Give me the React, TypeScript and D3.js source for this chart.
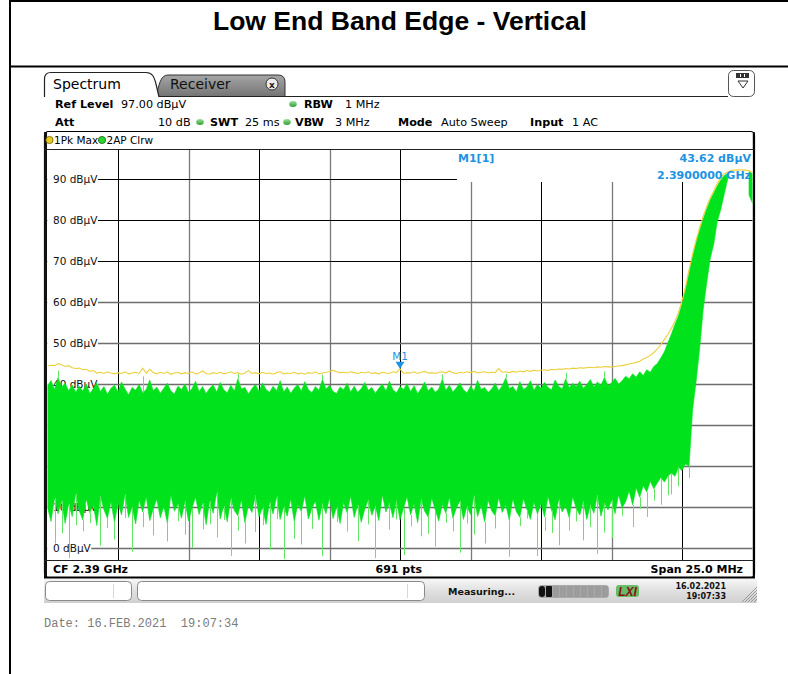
import * as d3 from 'd3';

const W = 788;
const H = 674;

// sweep settings: CF 2.39 GHz, span 25 MHz, one reading every 0.125 MHz
const startMHz = 2377.5;
const stopMHz = 2402.5;
const stepMHz = 0.125;
const refLevel = 97;
const bottomLevel = -3;

const levelTicks = [90, 80, 70, 60, 50, 40, 30, 20, 10, 0];
const darkLevels = [90, 80, 70];
const freqDivisions = [1, 2, 3, 4, 5, 6, 7, 8, 9];

// trace 1: Pk Max (yellow), dBµV
const pkMax = [
  44.3, 44.5, 44.4, 44.9, 44.6, 44.2, 44.4, 43.9, 43.7, 43.8,
  43.4, 43.5, 43.0, 43.2, 42.6, 42.8, 42.5, 42.9, 42.6, 42.4,
  42.7, 42.5, 42.9, 42.4, 42.6, 42.8, 42.5, 43.8, 42.6, 43.5,
  42.7, 42.4, 42.8, 42.5, 42.9, 42.3, 42.6, 42.8, 42.4, 42.7,
  42.5, 42.9, 42.4, 42.6, 43.1, 42.5, 42.3, 42.7, 42.5, 42.8,
  42.4, 42.6, 42.9, 42.5, 42.7, 42.3, 42.6, 43.2, 42.5, 42.7,
  42.4, 42.8, 42.5, 42.6, 42.3, 42.7, 42.9, 42.4, 42.6, 42.5,
  42.8, 42.4, 42.6, 42.3, 42.7, 42.5, 42.9, 42.4, 42.6, 42.8,
  42.9, 43.3, 42.9, 42.7, 42.8, 42.6, 42.9, 42.7, 42.5, 42.8,
  42.6, 42.9, 42.5, 42.7, 42.4, 42.8, 42.6, 42.5, 42.9, 42.7,
  43.6, 42.5, 42.7, 42.6, 42.9, 42.5, 42.8, 43.0, 42.6, 42.7,
  42.5, 42.8, 42.9, 42.6, 43.1, 42.7, 42.5, 42.8, 42.6, 42.9,
  42.7, 43.0, 42.6, 42.8, 42.9, 42.6, 42.8, 42.7, 43.7, 42.8,
  42.9, 42.7, 43.0, 42.8, 43.1, 42.9, 43.2, 43.0, 43.3, 43.1,
  43.3, 43.4, 43.2, 43.5, 43.4, 43.6, 43.5, 43.7, 43.6, 43.8,
  43.7, 43.9, 43.8, 43.9, 44.0, 43.9, 44.1, 44.0, 44.2, 44.1,
  44.1, 44.2, 44.3, 44.4, 44.6, 44.8, 45.0, 45.2, 45.5, 46.0,
  46.4, 46.9, 47.6, 48.5, 49.5, 50.8, 52.0, 53.5, 55.2, 57.4,
  60.2, 63.6, 67.8, 71.6, 75.0, 78.0, 80.8, 83.2, 85.3, 87.0,
  88.8, 90.3, 91.2, 91.7, 92.0, 92.1, 92.2, 92.1, 92.1, 92.0,
  91.4,
];

// trace 2: AP Clrw (green), upper and lower envelope, dBµV
const apHigh = [
  39.5, 40.8, 38.6, 41.5, 39.2, 40.1, 38.3, 39.7, 37.9, 39.4,
  38.2, 39.9, 37.6, 38.8, 40.2, 38.1, 39.3, 37.4, 38.9, 39.6,
  38.0, 40.4, 38.7, 37.3, 39.1, 38.4, 39.8, 37.8, 38.6, 40.9,
  38.3, 39.2, 37.7, 38.9, 40.1, 38.2, 37.5, 39.4, 38.6, 39.9,
  37.9, 38.8, 40.6, 38.1, 39.3, 37.6, 38.9, 39.7, 38.0, 40.3,
  38.5, 37.8, 39.6, 38.2, 41.2, 38.7, 39.1, 37.5, 38.8, 39.8,
  38.1, 40.2, 38.6, 37.9, 39.4, 38.3, 40.7, 38.0, 39.2, 37.7,
  38.9, 39.8, 38.2, 40.5, 38.6, 37.8, 39.3, 38.4, 41.0, 38.7,
  39.6, 38.1, 37.6, 39.2, 38.5, 40.1, 38.0, 39.4, 37.9, 38.8,
  40.3, 38.4, 39.1, 37.7, 38.9, 39.9, 38.2, 40.6, 38.5, 37.8,
  39.3, 38.6, 40.0, 38.1, 39.5, 37.6, 38.8, 40.4, 38.3, 39.2,
  37.9, 38.7, 41.1, 38.4, 39.6, 38.0, 39.0, 40.2, 38.5, 37.8,
  39.4, 38.2, 40.8, 38.6, 39.1, 37.9, 38.7, 40.1, 38.3, 39.5,
  41.4, 38.8, 39.3, 38.0, 40.5, 38.6, 39.2, 40.7, 38.4, 39.8,
  38.9, 40.3, 39.1, 38.5, 40.9, 39.4, 38.7, 41.2, 39.0, 40.1,
  39.3, 40.6, 38.9, 39.8, 41.0, 39.2, 40.4, 39.6, 41.5, 39.5,
  40.2, 41.3, 39.9, 40.7, 41.8, 41.2, 42.4, 41.6, 42.9, 42.0,
  43.4, 42.8, 44.2, 44.9, 46.3, 47.8, 50.0, 52.1, 54.5, 56.6,
  59.5, 63.0, 67.0, 71.0, 74.5, 77.5, 80.2, 82.6, 84.8, 86.5,
  88.2, 89.7, 90.8, 91.3, null, null, null, null, null, 91.8,
  91.2,
];

const apLow = [
  9.8, 6.4, 12.1, 8.3, 11.5, 5.9, 10.7, 7.6, 13.2, 9.0,
  6.8, 11.9, 8.5, 10.4, 5.4, 12.6, 9.3, 7.1, 11.2, 6.2,
  10.8, 8.0, 13.0, 7.4, 9.9, 5.8, 11.6, 8.7, 12.4, 6.6,
  9.5, 11.8, 7.3, 10.1, 6.0, 12.9, 8.9, 10.6, 7.2, 11.3,
  6.5, 9.7, 12.3, 8.1, 10.9, 5.6, 11.4, 8.4, 13.5, 7.0,
  10.2, 6.3, 12.0, 9.1, 7.8, 11.7, 6.1, 10.3, 8.6, 12.8,
  7.5, 9.8, 5.7, 11.1, 8.2, 12.5, 6.9, 10.0, 7.7, 11.9,
  6.4, 10.5, 8.8, 12.7, 7.0, 9.6, 11.3, 6.7, 10.8, 8.3,
  12.2, 7.1, 9.9, 5.9, 11.0, 8.5, 12.6, 7.4, 10.4, 6.2,
  9.4, 11.7, 7.9, 10.2, 6.6, 12.9, 8.7, 10.9, 7.3, 11.5,
  6.8, 9.6, 12.4, 8.0, 10.7, 6.1, 11.8, 8.9, 7.5, 12.1,
  9.2, 6.5, 10.6, 8.4, 12.3, 7.2, 9.7, 11.4, 6.9, 10.1,
  8.1, 12.7, 7.6, 10.3, 6.3, 11.6, 9.0, 7.8, 12.2, 8.6,
  10.5, 6.7, 11.9, 8.8, 7.4, 12.0, 9.3, 6.9, 11.1, 8.2,
  10.8, 7.5, 12.5, 9.1, 6.8, 11.7, 8.7, 10.2, 7.3, 12.4,
  9.6, 8.0, 11.3, 6.9, 10.5, 8.4, 12.8, 7.7, 10.9, 9.2,
  11.6, 8.3, 12.9, 9.7, 11.2, 13.8, 10.4, 14.6, 12.3, 15.1,
  13.6, 16.2, 14.4, 15.8, 17.1, 16.0, 17.5, 18.2, 17.4, 19.6,
  18.8, 20.4, 19.9, 33.5, 40.5, 48.5, 58.0, 64.5, 70.5, 74.0,
  79.5, 82.5, 86.3, 90.0, null, null, null, null, null, 86.0,
  84.0,
];

// single-sample excursions of the green trace: [sample index, dBµV]
const apDips = [
  [2, 1.0], [4, 3.5], [6, -2.5], [8, 5.5], [10, 4.0], [12, 6.0], [15, 0.5],
  [17, 4.8], [19, 2.0], [22, 7.2], [24, -1.0], [27, 5.0], [30, 3.0], [34, 1.5],
  [37, 6.5], [39, 3.2], [41, 0.0], [44, 4.5], [46, 5.8], [48, 2.5], [50, 6.8],
  [52, -2.0], [54, 4.2], [56, 1.0], [59, 3.8], [61, 5.5], [63, -0.5], [65, 7.0],
  [67, -2.8], [70, 2.2], [72, 0.8], [75, 4.6], [78, -2.0], [82, 6.3], [85, 3.9],
  [88, 1.6], [91, 5.7], [93, -2.5], [97, 4.4], [99, 6.9], [101, -1.8], [103, 5.2],
  [106, 2.8], [108, 3.4], [110, 0.3], [113, 6.1], [115, 4.0], [117, -1.2],
  [119, 5.9], [121, 3.2], [124, 1.0], [127, 4.7], [131, -2.2], [134, 5.3],
  [136, 7.1], [139, -2.0], [141, 4.1], [143, 3.6], [145, 0.6], [148, 4.2],
  [150, 6.4], [152, 1.8], [154, 5.0], [156, -1.5], [158, 3.7], [160, 2.4],
  [163, 7.8], [166, 5.0], [168, 9.5], [170, 7.5], [172, 11.5], [174, 10.5],
  [176, 12.8], [177, 13.0], [179, 15.0], [182, 17.0],
];
const apPeaks = [
  [3, 43.2], [27, 41.8], [54, 42.4], [78, 42.2], [112, 42.3], [130, 42.4],
  [147, 42.6], [158, 43.0],
];

const marker = {
  name: 'M1',
  tag: 'M1[1]',
  freqMHz: 2390,
  level: 43.62,
  levelText: '43.62 dBµV',
  freqText: '2.3900000 GHz',
};

const UI = '"DejaVu Sans", Verdana, sans-serif';
const BLUE = '#1c93e3';
const GREEN = '#00e31c';
const YELLOW = '#ecd03a';

// plot area
const GX0 = 47.5, GX1 = 752.5, GY0 = 150, GY1 = 560;

const headerRow1 = [
  { t: 'Ref Level', x: 55, b: true },
  { t: '97.00 dBµV', x: 121 },
  { t: 'RBW', x: 304, b: true },
  { t: '1 MHz', x: 345 },
];
const headerRow2 = [
  { t: 'Att', x: 55, b: true },
  { t: '10 dB', x: 158 },
  { t: 'SWT', x: 210, b: true },
  { t: '25 ms', x: 245 },
  { t: 'VBW', x: 295, b: true },
  { t: '3 MHz', x: 335 },
  { t: 'Mode', x: 398, b: true },
  { t: 'Auto Sweep', x: 441 },
  { t: 'Input', x: 530, b: true },
  { t: '1 AC', x: 572 },
];
const headerDots = [[293, 104], [200, 122], [287, 122]];

// approximate advance widths (em) for the axis label font
const labelWidth = (s: string) =>
  s.split('').reduce((w, c) => w + (c === ' ' ? 0.318 : /[0-9]/.test(c) ? 0.636 : c === 'B' ? 0.686 : c === 'V' ? 0.684 : 0.636), 0);

export default function App() {
  const x = d3.scaleLinear().domain([startMHz, stopMHz]).range([GX0, GX1]);
  const y = d3.scaleLinear().domain([bottomLevel, refLevel]).range([GY1, GY0]);
  const idx = d3.range(pkMax.length);
  const xi = (i: number) => x(startMHz + i * stepMHz);
  const px = (v: number) => Math.round(v) + 0.5;

  const yellowPath = d3.line<number>().x(xi).y((i) => y(pkMax[i]))(idx) || '';
  const greenPath =
    d3
      .area<number>()
      .defined((i) => apHigh[i] != null && apLow[i] != null)
      .x(xi)
      .y0((i) => y(apLow[i] as number))
      .y1((i) => y(apHigh[i] as number))(idx) || '';

  const divStep = (stopMHz - startMHz) / 10;
  const mx = x(marker.freqMHz);
  const my = y(marker.level);
  const LFS = 10.5;

  return (
    <svg
      width={W}
      height={H}
      viewBox={`0 0 ${W} ${H}`}
      style={{ position: 'absolute', left: 0, top: 0, background: '#fff' }}
    >
      <defs>
        <linearGradient id="tabGray" x1="0" y1="0" x2="0" y2="1">
          <stop offset="0" stopColor="#a6a6a6" />
          <stop offset="1" stopColor="#747474" />
        </linearGradient>
        <linearGradient id="statusBg" x1="0" y1="0" x2="0" y2="1">
          <stop offset="0" stopColor="#f6f6f6" />
          <stop offset="0.5" stopColor="#e0e0e0" />
          <stop offset="1" stopColor="#d0d0d0" />
        </linearGradient>
        <linearGradient id="dotG" x1="0" y1="0" x2="0" y2="1">
          <stop offset="0" stopColor="#9be09b" />
          <stop offset="1" stopColor="#2f9f2f" />
        </linearGradient>
        <clipPath id="plotClip">
          <rect x={GX0} y={GY0} width={GX1 - GX0} height={GY1 - GY0} />
        </clipPath>
      </defs>

      {/* page table lines + title */}
      <line x1={9} x2={W} y1={1} y2={1} stroke="#000" strokeWidth={2} />
      <line x1={10} x2={10} y1={0} y2={H} stroke="#000" strokeWidth={2} />
      <line x1={10} x2={W} y1={66.5} y2={66.5} stroke="#000" strokeWidth={2} />
      <text
        x={400}
        y={30}
        textAnchor="middle"
        fontFamily='"Liberation Sans", Arial, sans-serif'
        fontWeight="bold"
        fontSize={26.5}
        fill="#000"
      >
        Low End Band Edge - Vertical
      </text>

      {/* tabs */}
      <path
        d="M156,96.5 C159,86 160,75 168,75 H278 Q285,75 285,82 V96.5 Z"
        fill="url(#tabGray)"
        stroke="#333"
        strokeWidth={1}
      />
      <text x={170} y={89} fontFamily={UI} fontSize={14} fill="#111">Receiver</text>
      <circle cx={272} cy={84} r={6} fill="#ececec" stroke="#333" strokeWidth={1} />
      <text x={272} y={87.5} textAnchor="middle" fontFamily={UI} fontSize={9} fontWeight="bold" fill="#222">x</text>
      <path
        d="M44.5,97 V79 Q44.5,72.5 51,72.5 H146 C152,72.5 154,76 156,84 L159,97"
        fill="#fff"
        stroke="#222"
        strokeWidth={1.2}
      />
      <text x={53} y={89} fontFamily={UI} fontSize={14} fill="#000">Spectrum</text>
      <line x1={159} x2={728} y1={96.5} y2={96.5} stroke="#222" strokeWidth={1} />
      <rect x={728.5} y={70.5} width={26} height={26} rx={5} fill="#fff" stroke="#555" />
      <rect x={736} y={73} width={13} height={5} fill="#333" />
      <line x1={740.5} x2={740.5} y1={74} y2={77} stroke="#fff" />
      <line x1={744.5} x2={744.5} y1={74} y2={77} stroke="#fff" />
      <path d="M738,81 H748 L743,88 Z" fill="none" stroke="#333" strokeWidth={1} />

      {/* header settings */}
      {headerRow1.map((h) => (
        <text key={h.t} x={h.x} y={108} fontFamily={UI} fontSize={11.2} fontWeight={h.b ? 'bold' : 'normal'} fill="#000">
          {h.t}
        </text>
      ))}
      {headerRow2.map((h) => (
        <text key={h.t} x={h.x} y={126} fontFamily={UI} fontSize={11.2} fontWeight={h.b ? 'bold' : 'normal'} fill="#000">
          {h.t}
        </text>
      ))}
      {headerDots.map(([cx, cy]) => (
        <ellipse key={`${cx}-${cy}`} cx={cx} cy={cy} rx={3.8} ry={3} fill="url(#dotG)" />
      ))}

      {/* diagram panel */}
      <rect x={44.5} y={131.5} width={710} height={446} rx={4} fill="#fff" stroke="#000" strokeWidth={1.2} />
      <line x1={45.5} x2={45.5} y1={132} y2={577} stroke="#111" strokeWidth={3} />
      <line x1={753.8} x2={753.8} y1={132} y2={578} stroke="#000" strokeWidth={2} />
      <line x1={44} x2={755} y1={577.5} y2={577.5} stroke="#000" strokeWidth={2} />
      <line x1={44} x2={754} y1={149.5} y2={149.5} stroke="#222" strokeWidth={1} />
      <line x1={44} x2={754} y1={560.5} y2={560.5} stroke="#222" strokeWidth={1} />

      {/* trace legend */}
      <circle cx={49.5} cy={140} r={3.6} fill="#e9cc1c" stroke="#6b5a00" strokeWidth={0.8} />
      <text x={54} y={143.8} fontFamily={UI} fontSize={10.5} fill="#000">1Pk Max</text>
      <circle cx={102} cy={140} r={3.6} fill="#2ed42e" stroke="#126612" strokeWidth={0.8} />
      <text x={106.5} y={143.8} fontFamily={UI} fontSize={10.5} fill="#000">2AP Clrw</text>

      {/* grid */}
      {freqDivisions.map((k) => (
        <line
          key={`v${k}`}
          x1={px(x(startMHz + k * divStep))}
          x2={px(x(startMHz + k * divStep))}
          y1={GY0}
          y2={GY1}
          stroke={k % 2 ? '#000' : '#7a7a7a'}
          strokeWidth={k % 2 ? 1 : 1.3}
        />
      ))}
      {levelTicks.map((v) => (
        <line
          key={`h${v}`}
          x1={GX0}
          x2={GX1}
          y1={px(y(v))}
          y2={px(y(v))}
          stroke={darkLevels.includes(v) ? '#000' : '#6e6e6e'}
          strokeWidth={darkLevels.includes(v) ? 1 : 1.3}
        />
      ))}
      {levelTicks.map((v) => {
        const label = `${v} dBµV`;
        return (
          <g key={`l${v}`}>
            <rect
              x={GX0}
              y={y(v) - 6}
              width={53 - GX0 + labelWidth(label) * LFS + 0.5}
              height={12}
              fill="#fff"
            />
            <text x={53} y={y(v) + 4} fontFamily={UI} fontSize={LFS} fill="#111">
              {label}
            </text>
          </g>
        );
      })}

      {/* marker readout area */}
      <rect x={457} y={GY0} width={GX1 - 457} height={32} fill="#fff" />

      {/* traces */}
      <g clipPath="url(#plotClip)">
        <path d={greenPath} fill={GREEN} stroke={GREEN} strokeWidth={0.6} />
        {apDips.map(([i, v]) => (
          <line
            key={`d${i}`}
            x1={px(xi(i))}
            x2={px(xi(i))}
            y1={y(apLow[i] as number)}
            y2={y(Math.max(v, bottomLevel))}
            stroke="#63e663"
            strokeWidth={1}
          />
        ))}
        {apPeaks.map(([i, v]) => (
          <line
            key={`p${i}`}
            x1={px(xi(i))}
            x2={px(xi(i))}
            y1={y(apHigh[i] as number)}
            y2={y(v)}
            stroke="#63e663"
            strokeWidth={1}
          />
        ))}
        <path d={yellowPath} fill="none" stroke={YELLOW} strokeWidth={1.1} />
      </g>

      {/* marker */}
      <path d={`M${mx - 4.5},${my - 7} H${mx + 4.5} L${mx},${my} Z`} fill={BLUE} />
      <text x={mx} y={my - 9} textAnchor="middle" fontFamily={UI} fontSize={10.5} fill={BLUE}>
        {marker.name}
      </text>
      <text x={458} y={162} fontFamily={UI} fontSize={11} fontWeight="bold" fill={BLUE}>
        {marker.tag}
      </text>
      <text x={751} y={162} textAnchor="end" fontFamily={UI} fontSize={11} fontWeight="bold" fill={BLUE}>
        {marker.levelText}
      </text>
      <text x={751} y={178.5} textAnchor="end" fontFamily={UI} fontSize={11} fontWeight="bold" fill={BLUE}>
        {marker.freqText}
      </text>

      {/* footer of diagram */}
      <text x={53} y={572.5} fontFamily={UI} fontSize={11} fontWeight="bold" fill="#000">CF 2.39 GHz</text>
      <text x={422} y={572.5} textAnchor="end" fontFamily={UI} fontSize={11} fontWeight="bold" fill="#000">691 pts</text>
      <text x={743} y={572.5} textAnchor="end" fontFamily={UI} fontSize={11} fontWeight="bold" fill="#000">Span 25.0 MHz</text>

      {/* status bar */}
      <rect x={44} y={579} width={713} height={24} fill="url(#statusBg)" />
      <rect x={45.5} y={581.5} width={86} height={19} rx={4} fill="#fff" stroke="#8a8a8a" />
      <line x1={113.5} x2={113.5} y1={584} y2={598} stroke="#d8d8d8" />
      <rect x={137.5} y={581.5} width={287} height={19} rx={4} fill="#fff" stroke="#8a8a8a" />
      <line x1={407.5} x2={407.5} y1={584} y2={598} stroke="#d8d8d8" />
      <text x={448} y={594.5} fontFamily={UI} fontSize={9.5} fontWeight="bold" fill="#111">Measuring...</text>
      <rect x={538} y={585} width={71} height={13} rx={4} fill="#a9a9a9" />
      {d3.range(10).map((s) => (
        <rect
          key={`s${s}`}
          x={539 + s * 7}
          y={586}
          width={6}
          height={11}
          rx={s === 0 ? 3 : 1}
          fill={s < 2 ? '#111' : '#9c9c9c'}
        />
      ))}
      <rect x={616} y={585} width={23} height={12} rx={3} fill="#52b552" opacity={0.85} />
      <text x={627.5} y={595.5} textAnchor="middle" fontFamily='"Liberation Sans", Arial, sans-serif' fontSize={12} fontWeight="bold" fontStyle="italic" fill="#8c1014">
        LXI
      </text>
      <text x={726} y={589} textAnchor="end" fontFamily={UI} fontSize={8} fontWeight="bold" fill="#111">16.02.2021</text>
      <text x={726} y={599} textAnchor="end" fontFamily={UI} fontSize={8} fontWeight="bold" fill="#111">19:07:33</text>
      {d3.range(5).map((k) => (
        <line
          key={`hatch${k}`}
          x1={742 + k * 3}
          y1={602}
          x2={757}
          y2={587 + k * 3}
          stroke="#8a8a8a"
          strokeWidth={0.8}
        />
      ))}

      <text
        x={44}
        y={627}
        fontFamily='"Liberation Mono", "Courier New", monospace'
        fontSize={12}
        fill="#7c7c7c"
        style={{ whiteSpace: 'pre' }}
      >
        {'Date: 16.FEB.2021  19:07:34'}
      </text>
    </svg>
  );
}
